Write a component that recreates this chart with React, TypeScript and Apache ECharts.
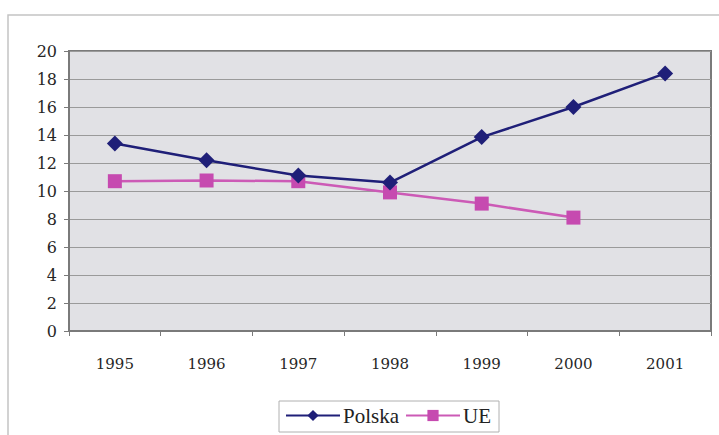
import React, { useEffect, useRef } from "react";
import * as echarts from "echarts";

const years = ["1995", "1996", "1997", "1998", "1999", "2000", "2001"];
const polska = [13.4, 12.2, 11.1, 10.6, 13.85, 16.0, 18.4];
const ue = [10.7, 10.75, 10.7, 9.9, 9.1, 8.1, null];

export default function App() {
  const ref = useRef<HTMLDivElement>(null);
  useEffect(() => {
    const chart = echarts.init(ref.current!, null, { renderer: "svg" });
    const font = "'DejaVu Serif', serif";
    chart.setOption({
      animation: false,
      backgroundColor: "#ffffff",
      graphic: [
        {
          type: "rect",
          shape: { x: 8, y: 15, width: 730, height: 440 },
          style: { fill: "none", stroke: "#c4c4c4", lineWidth: 1.5 },
          silent: true,
        },
      ],
      grid: {
        left: 69,
        right: 8,
        top: 51,
        bottom: 104,
        show: true,
        backgroundColor: "#e1e1e5",
        borderColor: "#7a7a7a",
        borderWidth: 2,
      },
      legend: {
        top: 401,
        left: 279,
        itemWidth: 54,
        itemHeight: 14,
        itemGap: 6,
        padding: [4, 8, 6, 6],
        borderColor: "#b0b0b0",
        borderWidth: 1,
        textStyle: { fontFamily: "'Liberation Serif', serif", fontSize: 21, color: "#222", padding: [0, 0, 0, -2] },
        data: ["Polska", "UE"],
      },
      xAxis: {
        type: "category",
        data: years,
        boundaryGap: true,
        axisLine: { lineStyle: { color: "#7a7a7a", width: 2 } },
        axisTick: { show: true, length: 5, lineStyle: { color: "#7a7a7a" } },
        axisLabel: { margin: 25, fontFamily: font, fontSize: 15, color: "#262626" },
      },
      yAxis: {
        type: "value",
        min: 0,
        max: 20,
        interval: 2,
        axisLine: { show: true, lineStyle: { color: "#7a7a7a", width: 2 } },
        axisTick: { show: true, length: 5, lineStyle: { color: "#7a7a7a" } },
        axisLabel: { margin: 12, fontFamily: font, fontSize: 16, color: "#262626" },
        splitLine: { lineStyle: { color: "#9a9a9a", width: 1 } },
      },
      series: [
        {
          name: "Polska",
          type: "line",
          data: polska,
          symbol: "diamond",
          symbolSize: 16,
          itemStyle: { color: "#1f1f78" },
          lineStyle: { color: "#1f1f78", width: 2.5 },
          z: 3,
        },
        {
          name: "UE",
          type: "line",
          data: ue,
          symbol: "rect",
          symbolSize: 14,
          itemStyle: { color: "#c64ab0" },
          lineStyle: { color: "#cc5ab6", width: 2.5 },
          z: 2,
        },
      ],
    });
    return () => chart.dispose();
  }, []);
  return <div ref={ref} style={{ width: 719, height: 435, position: "absolute", left: 0, top: 0 }} />;
}
